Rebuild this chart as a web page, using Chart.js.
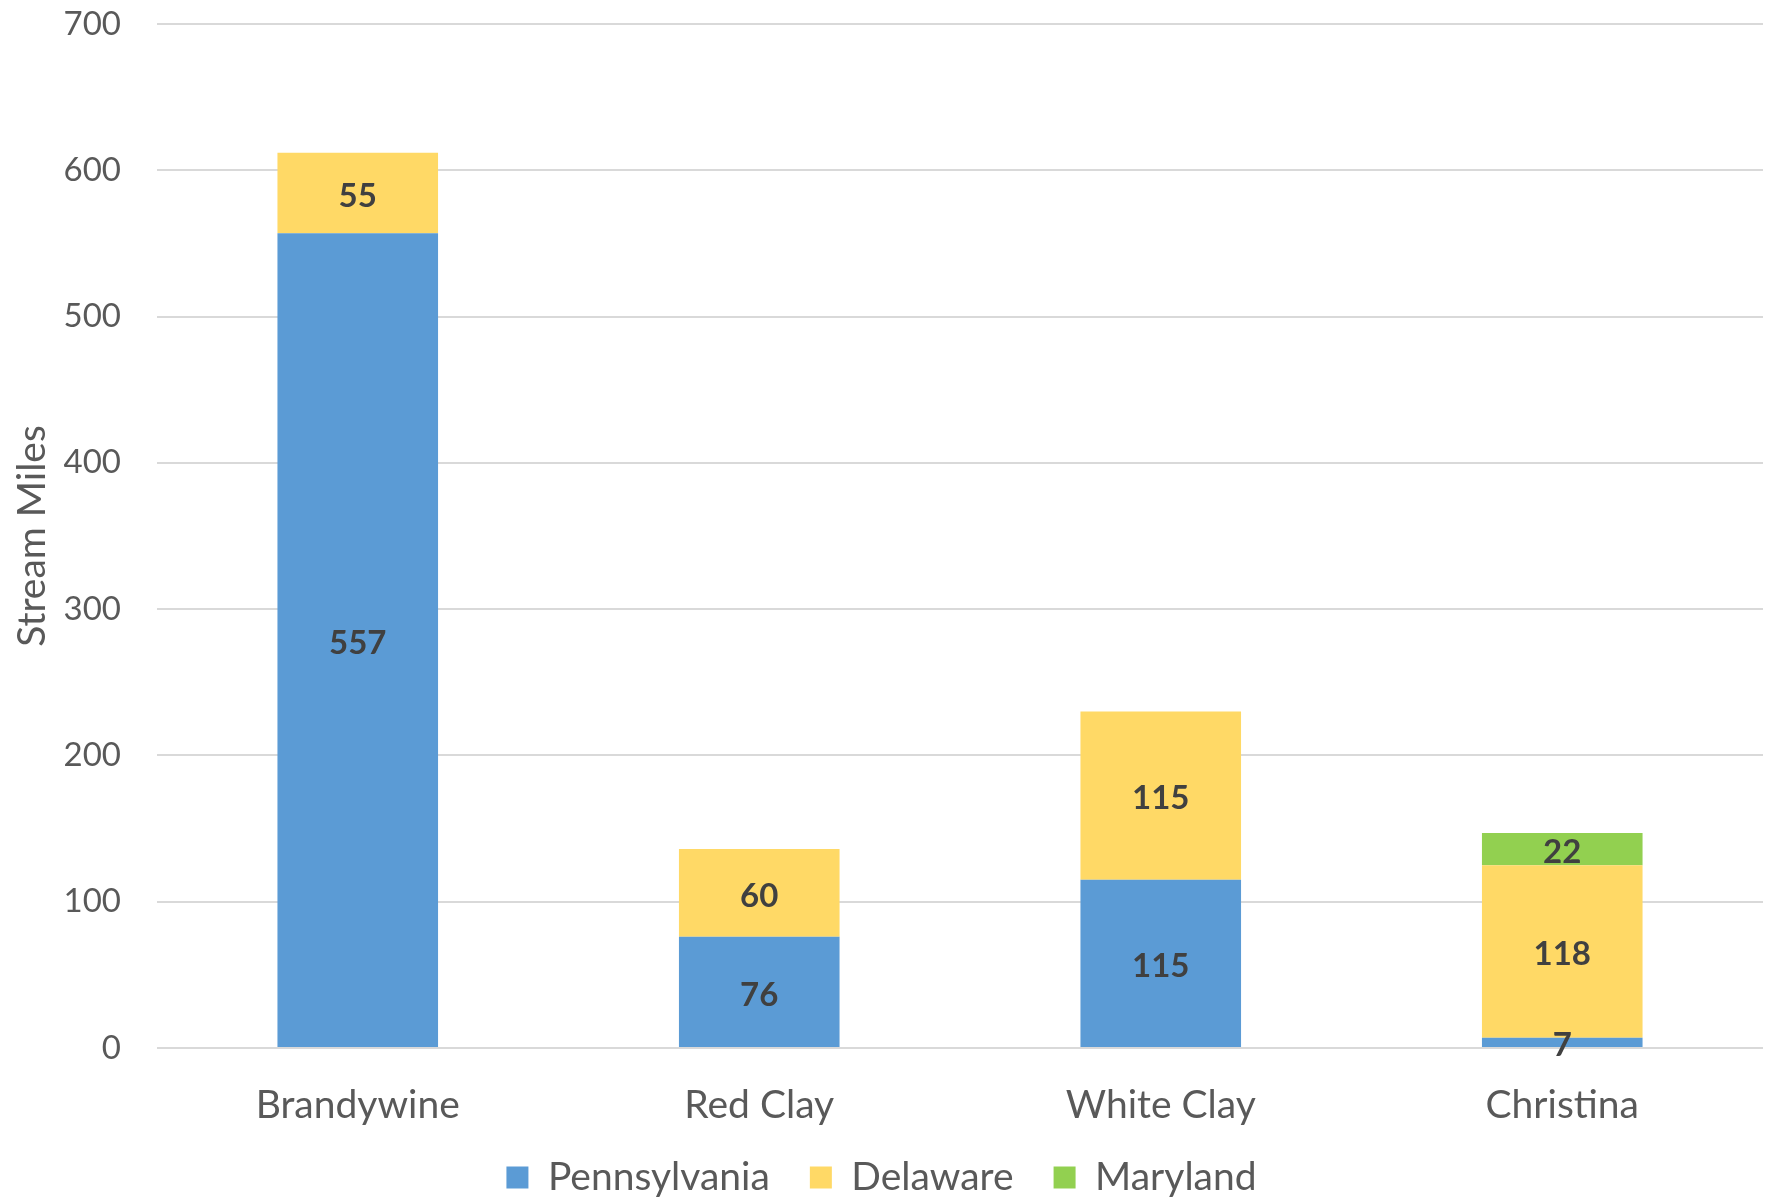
<!DOCTYPE html>
<html>
<head>
<meta charset="utf-8">
<script src="https://cdn.jsdelivr.net/npm/chart.js@4.4.1/dist/chart.umd.min.js"></script>
<style>
  html, body { margin: 0; padding: 0; background: #fff; }
  #wrap { width: 1769px; height: 1201px; }
</style>
</head>
<body>
<div id="wrap"><canvas id="streamChart" width="1769" height="1201"></canvas></div>
<script>
// ===== データ =====
const WATERSHEDS   = ['Brandywine', 'Red Clay', 'White Clay', 'Christina'];
const PENNSYLVANIA = [557, 76, 115, 7];
const DELAWARE     = [55, 60, 115, 118];
const MARYLAND     = [null, null, null, 22];
const Y_TICKS      = [0, 100, 200, 300, 400, 500, 600, 700];

const FONT = 'Lato, "Open Sans", sans-serif';
const GRAY = '#595959';

// ===== 棒の中の数値ラベル =====
const barLabels = {
  id: 'barLabels',
  afterDatasetsDraw(chart) {
    const ctx = chart.ctx;
    ctx.save();
    ctx.font = `bold 33px ${FONT}`;
    ctx.fillStyle = '#404040';
    ctx.textAlign = 'center';
    ctx.textBaseline = 'middle';
    chart.data.datasets.forEach((ds, i) => {
      const meta = chart.getDatasetMeta(i);
      meta.data.forEach((bar, j) => {
        const v = ds.data[j];
        if (v == null) return;
        ctx.fillText(String(v), bar.x, (bar.y + bar.base) / 2 + 3);
      });
    });
    ctx.restore();
  }
};

// ===== 凡例を少し上へ =====
const legendNudge = {
  id: 'legendNudge',
  afterLayout(chart) {
    if (!chart.legend) return;
    chart.legend.top -= 12;
    chart.legend.bottom -= 12;
  }
};

new Chart(document.getElementById('streamChart'), {
  type: 'bar',
  data: {
    labels: WATERSHEDS,
    datasets: [
      { label: 'Pennsylvania', data: PENNSYLVANIA, backgroundColor: '#5B9BD5' },
      { label: 'Delaware',     data: DELAWARE,     backgroundColor: '#FFD966' },
      { label: 'Maryland',     data: MARYLAND,     backgroundColor: '#92D050' }
    ]
  },
  options: {
    responsive: false,
    animation: false,
    events: [],
    datasets: { bar: { categoryPercentage: 1, barPercentage: 0.4, borderWidth: 0 } },
    layout: { padding: { top: 24, right: 6, left: 0, bottom: -18 } },
    plugins: {
      legend: {
        position: 'bottom',
        labels: {
          font: { family: FONT, size: 39 },
          color: GRAY,
          boxWidth: 22,
          boxHeight: 22,
          padding: 40
        }
      },
      tooltip: { enabled: false }
    },
    scales: {
      x: {
        stacked: true,
        grid: { display: false, drawTicks: false },
        border: { display: false },
        ticks: { font: { family: FONT, size: 39 }, color: GRAY, padding: 34 },
        afterFit: s => { s.height = 82; }
      },
      y: {
        stacked: true,
        min: 0,
        max: 700,
        afterBuildTicks: s => { s.ticks = Y_TICKS.map(v => ({ value: v })); },
        grid: { color: '#D9D9D9', lineWidth: 2, drawTicks: false },
        border: { display: false },
        ticks: { font: { family: FONT, size: 33 }, color: GRAY, padding: 36 },
        title: {
          display: true,
          text: 'Stream Miles',
          font: { family: FONT, size: 39 },
          color: GRAY,
          padding: { top: 9, bottom: 0 }
        },
        afterFit: s => { s.width = 157; s.paddingTop = 0; s.paddingBottom = 0; }
      }
    }
  },
  plugins: [barLabels, legendNudge]
});
</script>
</body>
</html>
